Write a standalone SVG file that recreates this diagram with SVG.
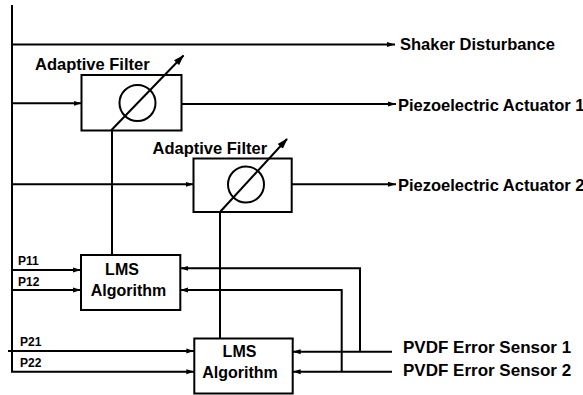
<svg xmlns="http://www.w3.org/2000/svg" width="583" height="395" viewBox="0 0 583 395">
<style>
.ln{fill:none;stroke:#000;stroke-width:2}
.bx{fill:#fff;stroke:#000;stroke-width:2}
.t{font-family:"Liberation Sans",Arial,sans-serif;font-weight:bold;fill:#000}
.l{font-size:16.5px}
.s{font-size:12px}
</style>
<defs>
<marker id="ah" markerUnits="userSpaceOnUse" markerWidth="8" markerHeight="6" refX="8" refY="3" orient="auto"><path d="M0,0.5 L8,3 L0,5.5 z" fill="#000"/></marker>
<marker id="big" markerUnits="userSpaceOnUse" markerWidth="11" markerHeight="8" refX="10" refY="4" orient="auto"><path d="M0,0.5 L11,4 L0,7.5 z" fill="#000"/></marker>
</defs>
<rect width="583" height="395" fill="#fff"/>
<g id="connectors">
<path class="ln" d="M12,5 V372"/>
<path class="ln" d="M12,44.5 H395" marker-end="url(#ah)"/>
<path class="ln" d="M12,103.3 H81.5" marker-end="url(#ah)"/>
<path class="ln" d="M181.5,104 H396" marker-end="url(#ah)"/>
<path class="ln" d="M12,184.3 H193.5" marker-end="url(#ah)"/>
<path class="ln" d="M291.7,184.3 H396" marker-end="url(#ah)"/>
<path class="ln" d="M112,130.5 V255"/>
<path class="ln" d="M220,212 V338.5"/>
<path class="ln" d="M12,270 H81" marker-end="url(#ah)"/>
<path class="ln" d="M12,290 H81" marker-end="url(#ah)"/>
<path class="ln" d="M8,351 H194.3" marker-end="url(#ah)"/>
<path class="ln" d="M12,371 V371.7 H194.3" marker-end="url(#ah)"/>
<path class="ln" d="M392,351.7 H292.7" marker-end="url(#ah)"/>
<path class="ln" d="M392,371.7 H292.7" marker-end="url(#ah)"/>
<path class="ln" d="M360,351.7 V268.3 H180.3" marker-end="url(#ah)"/>
<path class="ln" d="M341.7,371.7 V290 H180.3" marker-end="url(#ah)"/>
</g>
<g id="af1">
<rect class="bx" x="81.5" y="75" width="100" height="55.5"/>
<circle class="ln" cx="137.5" cy="103" r="18"/>
<path class="ln" d="M111,130.5 L183.5,55.5" marker-end="url(#big)"/>
<text class="t l" x="35" y="70">Adaptive Filter</text>
</g>
<g id="af2">
<rect class="bx" x="193.5" y="158.5" width="98.2" height="53.5"/>
<circle class="ln" cx="246" cy="184.5" r="18"/>
<path class="ln" d="M220,212 L287,139" marker-end="url(#big)"/>
<text class="t l" x="152.5" y="153.5">Adaptive Filter</text>
</g>
<g id="lms1">
<rect class="bx" x="81" y="255" width="99.3" height="55"/>
<text class="t" font-size="16" x="122" y="275" text-anchor="middle">LMS</text>
<text class="t" font-size="16" x="128.5" y="296" text-anchor="middle">Algorithm</text>
</g>
<g id="lms2">
<rect class="bx" x="194.3" y="338.5" width="98.4" height="55"/>
<text class="t" font-size="16" x="239.5" y="356.5" text-anchor="middle">LMS</text>
<text class="t" font-size="16" x="240" y="378" text-anchor="middle">Algorithm</text>
</g>
<g id="labels">
<text class="t l" x="400" y="50">Shaker Disturbance</text>
<text class="t l" x="398" y="110.5">Piezoelectric Actuator 1</text>
<text class="t l" x="398" y="190.5">Piezoelectric Actuator 2</text>
<text class="t" font-size="17" x="403" y="353">PVDF Error Sensor 1</text>
<text class="t" font-size="17" x="403" y="376">PVDF Error Sensor 2</text>
<text class="t s" x="18" y="265">P11</text>
<text class="t s" x="18" y="285.5">P12</text>
<text class="t s" x="20" y="346">P21</text>
<text class="t s" x="20" y="367">P22</text>
</g>
</svg>
